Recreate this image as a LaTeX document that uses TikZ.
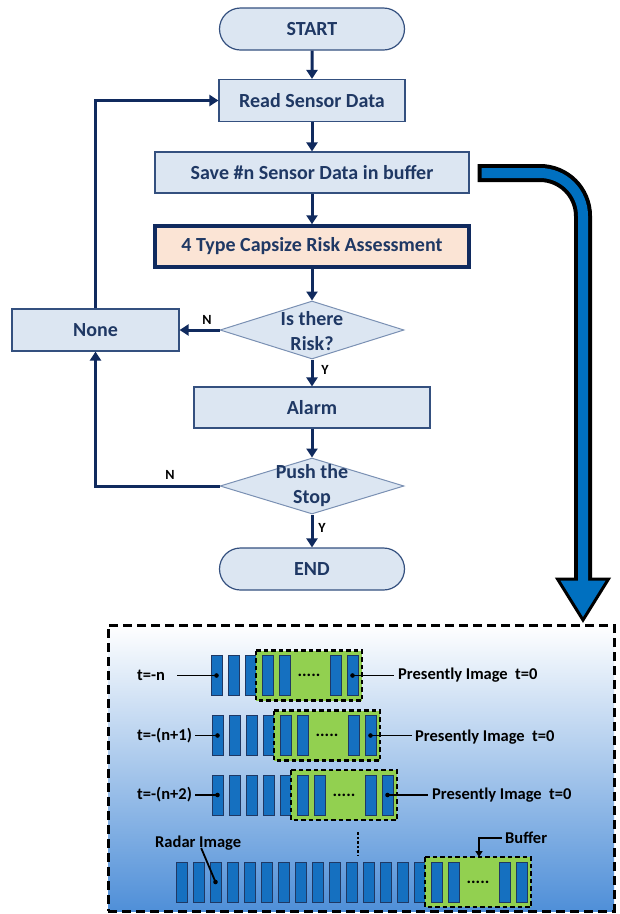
\documentclass[tikz,border=0pt]{standalone}
\usepackage{fontspec}
\setmainfont{Carlito}
\usetikzlibrary{shapes.geometric,shapes.misc,arrows.meta}
\definecolor{navytxt}{HTML}{1F3864}
\definecolor{arrcol}{HTML}{102A5E}
\definecolor{boxfill}{HTML}{DCE6F2}
\definecolor{boxline}{HTML}{34507F}
\definecolor{diaLine}{HTML}{7A90B3}
\definecolor{peach}{HTML}{FBE4D5}
\definecolor{bigblue}{HTML}{0070C0}
\definecolor{barblue}{HTML}{1570C0}
\definecolor{barline}{HTML}{1F3864}
\definecolor{grnfill}{HTML}{92D050}
\definecolor{panelmid}{HTML}{C8DAF1}
\definecolor{panelbot}{HTML}{4F8FD8}
\newcommand\bufrow[4]{%
  \pgfmathsetmacro\bufGL{#1+17*#2-6}%
  \pgfmathtruncatemacro\bufM{#2-1}%
  \foreach \k in {0,...,\bufM}{\draw[bar] ({#1+17*\k},{#3-20}) rectangle ++(11,40);}%
  \draw[grn] (\bufGL,{#3-25}) rectangle ++(106,50);%
  \foreach \j in {0,1,4,5}{\draw[bar] ({#1+17*(#2+\j)},{#3-20}) rectangle ++(11,40);}%
  \node[dots] (#4dots) at ({\bufGL+53},#3) {.....};%
  \coordinate (#4first) at ({#1+5.5},#3);%
  \coordinate (#4third) at ({#1+34+5.5},#3);%
  \coordinate (#4last) at ({#1+17*(#2+5)+5.5},#3);%
  \coordinate (#4gtop) at ({\bufGL+54},{#3-25});%
}
\begin{document}
\begin{tikzpicture}[x=1pt,y=-1pt,
  ftext/.style={text=navytxt,font=\fontsize{20}{25}\selectfont\bfseries},
  procbox/.style={ftext,draw=boxline,fill=boxfill,line width=1.2pt,inner sep=0pt,minimum height=42pt},
  termbox/.style={ftext,rounded rectangle,draw=boxline,fill=boxfill,line width=1.2pt,inner sep=0pt,minimum width=185pt,minimum height=42pt},
  keybox/.style={ftext,draw=arrcol,fill=peach,line width=3.5pt,inner sep=0pt,minimum width=314pt,minimum height=41pt},
  dia/.style={diamond,draw=diaLine,fill=boxfill,line width=1pt,inner sep=0pt,minimum width=184pt},
  dtxt/.style={ftext,align=center,inner sep=0pt},
  arr/.style={draw=arrcol,line width=3pt,-{Triangle[width=11pt,length=9pt]}},
  yn/.style={font=\fontsize{14}{16}\selectfont\bfseries,text=black,inner sep=0pt},
  ptext/.style={font=\fontsize{16.5}{19}\selectfont\bfseries,text=black,inner sep=0pt},
  pline/.style={draw=black,line width=1.8pt},
  bar/.style={draw=barline,fill=barblue,line width=0.8pt},
  grn/.style={draw=black,fill=grnfill,line width=2.5pt,dash pattern=on 4.5pt off 3pt},
  dots/.style={font=\fontsize{17}{19}\selectfont\bfseries,text=black,inner sep=0pt},
  panelbox/.style={draw=black,line width=3pt,dash pattern=on 9pt off 5pt,top color=white,middle color=panelmid,bottom color=panelbot,inner sep=0pt,minimum width=506pt,minimum height=286pt}
]
\useasboundingbox (0,0) rectangle (620,914);
% ---------------- flowchart ----------------
\node[termbox] (start) at (312,29) {START};
\node[procbox,minimum width=186pt] (read) at (312,100.5) {Read Sensor Data};
\node[procbox,minimum width=314pt,minimum height=41pt] (save) at (312,172.5) {Save \#n Sensor Data in buffer};
\node[keybox] (assess) at (312,246.5) {4 Type Capsize Risk Assessment};
\node[dia,minimum height=58pt] (d1) at (312,330) {};
\node[dtxt] (d1t) at (312,331) {Is there\\Risk?};
\node[procbox,minimum width=167pt] (none) at (95.5,330) {None};
\node[procbox,minimum width=236pt,minimum height=41pt] (alarm) at (312,407.5) {Alarm};
\node[dia,minimum height=56pt] (d2) at (312,486) {};
\node[dtxt] (d2t) at (312,486) {Push the\\Stop};
\node[termbox] (endn) at (312,569) {END};

\draw[arr] (start) -- (read);
\draw[arr] (read) -- (save);
\draw[arr] (save) -- (assess);
\draw[arr] (assess) -- (d1);
\draw[arr] (d1.west) -- (d1.west -| none.east);
\draw[arr] (d1) -- (alarm);
\draw[arr] (alarm) -- (d2);
\draw[arr] (d2) -- (endn);
\draw[arr] (d2.west) -| (none.south);
\draw[arr] (none.north) |- (read.west);

\node[yn] (n1) at (207,320) {N};
\node[yn] (y1) at (325,370) {Y};
\node[yn] (n2) at (170,475) {N};
\node[yn] (y2) at (322,528) {Y};

% ---------------- panel ----------------
\node[panelbox] (panel) at (361,768) {};

% ---------------- big arrow ----------------
\coordinate (bigcorner) at (583,173);
\coordinate (bigend) at (583,582);
\coordinate (bigtip) at (583,620);
\draw[black,line width=18pt,rounded corners=43pt] ([xshift=8pt]save.east |- bigcorner) -- (bigcorner) -- (bigend);
\filldraw[fill=bigblue,draw=black,line width=3pt,line join=miter] (557.5,579) -- (608.5,579) -- (bigtip) -- cycle;
\draw[bigblue,line width=10pt,rounded corners=43pt] ([xshift=12pt]save.east |- bigcorner) -- (bigcorner) -- (583,596);

% ---------------- buffer rows ----------------
\bufrow{211}{3}{675.5}{ra}
\bufrow{212}{4}{735.5}{rb}
\bufrow{212}{5}{795}{rc}
\bufrow{176}{15}{882}{rd}

\node[ptext,anchor=west] (la) at (137,675.5) {t=-n};
\node[ptext,anchor=west] (lb) at (137,735.5) {t=-(n+1)};
\node[ptext,anchor=west] (lc) at (137,795) {t=-(n+2)};
\draw[pline] ([xshift=12pt]la.east) -- (rafirst);
\draw[pline] ([xshift=3pt]lb.east) -- (rbfirst);
\draw[pline] ([xshift=3pt]lc.east) -- (rcfirst);

\node[ptext,anchor=west] (pa) at (398,675.5) {Presently Image\ \ t=0};
\node[ptext,anchor=west] (pb) at (415,737) {Presently Image\ \ t=0};
\node[ptext,anchor=west] (pc) at (432,795) {Presently Image\ \ t=0};
\draw[pline] (ralast) -- ([xshift=-4pt]pa.west);
\draw[pline] (rblast) -- ([xshift=-3pt]pb.west |- rblast);
\draw[pline] (rclast) -- ([xshift=-4pt]pc.west);

\foreach \c in {rafirst,ralast,rbfirst,rblast,rcfirst,rclast,rdthird}{\fill[black] (\c) circle (2.3);}

\node[ptext,anchor=west] (radar) at (155,843) {Radar Image};
\draw[pline] ([xshift=3pt,yshift=-5pt]radar.center) -- (rdthird);

\node[ptext,anchor=west] (buf) at (505,838) {Buffer};
\draw[pline,-{Triangle[width=7pt,length=6pt]}] ([xshift=-3pt]buf.west) -| (rdgtop);

\coordinate (vd1) at (358,832);
\coordinate (vd2) at (358,856);
\draw[black,line width=2.6pt,dash pattern=on 2.5pt off 2pt] (vd1) -- (vd2);
\end{tikzpicture}
\end{document}
